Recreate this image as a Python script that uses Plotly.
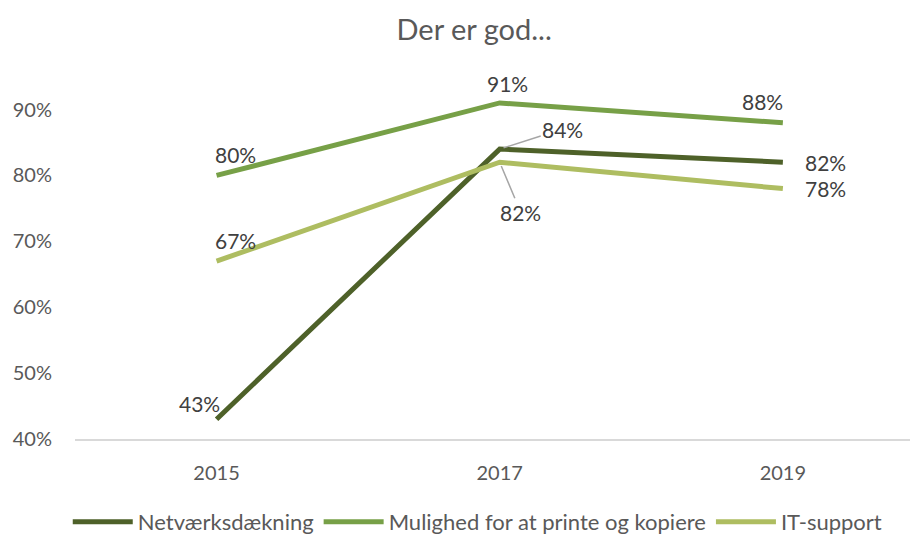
import plotly.graph_objects as go

years = ["2015", "2017", "2019"]
netvaerk = [43, 84, 82]
mulighed = [80, 91, 88]
it_support = [67, 82, 78]
series_names = ["Netværksdækning", "Mulighed for at printe og kopiere", "IT-support"]
y_ticks = [40, 50, 60, 70, 80, 90]

colors = ["#4E6129", "#77A047", "#AEBD61"]
FONT = "Lato"
TXT = "#404040"
AX = "#595959"

fig = go.Figure()
for name, vals, c in zip(series_names, [netvaerk, mulighed, it_support], colors):
    fig.add_trace(go.Scatter(x=years, y=vals, mode="lines", name=name,
                             line=dict(color=c, width=5)))

# label offsets (pixels) per series/point: (xshift, yshift) or leader (ax, ay)
offsets = [
    [("s", -17, 16), ("l", 63, -20), ("s", 43, 0)],
    [("s", 19, 21), ("s", 8, 19), ("s", -20, 21)],
    [("s", 19, 21), ("l", 21, 50), ("s", 43, 0)],
]
for vals, offs in zip([netvaerk, mulighed, it_support], offsets):
    for i, (v, o) in enumerate(zip(vals, offs)):
        if o[0] == "s":
            fig.add_annotation(x=i, y=v, xref="x", yref="y", text=f"{v}%", showarrow=False,
                               xshift=o[1], yshift=o[2],
                               font=dict(family=FONT, size=21, color=TXT))
        else:
            fig.add_annotation(x=i, y=v, xref="x", yref="y", text=f"{v}%", showarrow=True,
                               ax=o[1], ay=o[2], arrowhead=0, arrowwidth=1.5,
                               arrowcolor="#A6A6A6", standoff=4,
                               font=dict(family=FONT, size=21, color=TXT))

fig.update_layout(
    width=910, height=534,
    margin=dict(l=75, r=0, t=70, b=95),
    paper_bgcolor="white", plot_bgcolor="white",
    title=dict(text="Der er god...", x=0.521, xanchor="center", y=0.945, yanchor="middle",
               font=dict(family=FONT, size=29, color=AX)),
    font=dict(family=FONT, color=AX),
    xaxis=dict(type="category", range=[-0.5, 2.449], showgrid=False,
               showline=True, linecolor="#D9D9D9", linewidth=1.5, ticks="",
               tickfont=dict(family=FONT, size=20, color=AX), ticklabelstandoff=15),
    yaxis=dict(range=[40, 96], tickvals=y_ticks, ticktext=[f"{t}%" for t in y_ticks],
               showgrid=False, zeroline=False, showline=False,
               tickfont=dict(family=FONT, size=20, color=AX), ticklabelstandoff=22),
    legend=dict(orientation="h", x=0.525, xanchor="center", xref="container",
                y=0.0225, yanchor="middle", yref="container",
                font=dict(family=FONT, size=22, color=AX), itemwidth=60),
    showlegend=True,
)

fig.write_html("out.html")
